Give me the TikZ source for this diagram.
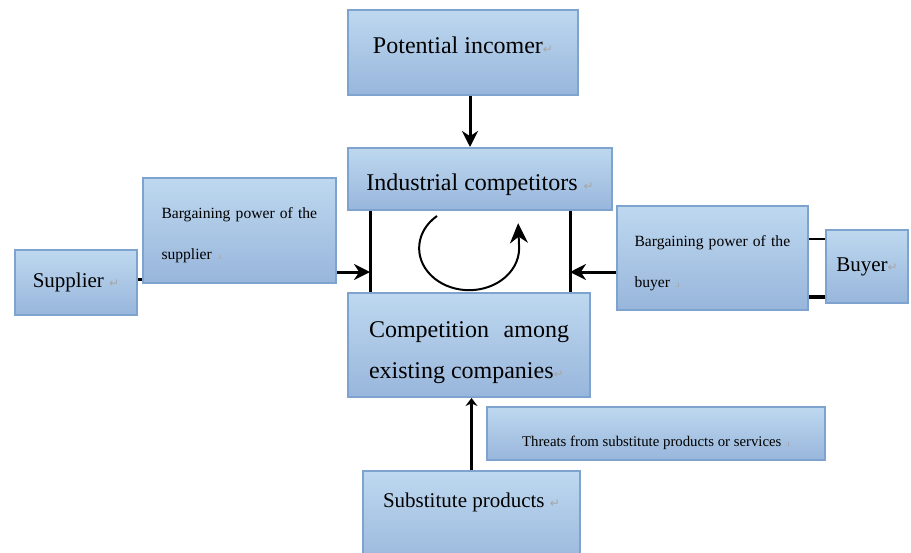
\documentclass[tikz,border=0pt]{standalone}
\usepackage{fontspec}
\setmainfont{Liberation Serif}
\newfontfamily\dejavu{DejaVu Sans}
\usetikzlibrary{arrows.meta, positioning, calc}

\definecolor{boxtop}{HTML}{BED8EF}
\definecolor{boxbot}{HTML}{98B6DC}
\definecolor{boxline}{HTML}{7EA3CE}

\newcommand{\retmark}{{\dejavu\fontsize{6}{6}\selectfont\color{gray!70}↵}}
\newcommand{\parmark}{{\fontsize{4.5}{4.5}\selectfont\color{gray!70}.ı}}

\begin{document}
\begin{tikzpicture}[x=0.5pt, y=-0.5pt, >=Stealth,
	force/.style={draw=boxline, line width=1pt, top color=boxtop, bottom color=boxbot, inner sep=0pt},
	big/.style={font=\fontsize{12}{20.5}\selectfont},
	mid/.style={font=\fontsize{10.5}{12}\selectfont},
	small/.style={font=\fontsize{7.8}{20.5}\selectfont, align=left, text width=78pt},
	arr/.style={->, line width=1.5pt, -{Stealth[length=8pt, width=8pt]}},
	bar/.style={line width=1.5pt}]
				\useasboundingbox (0,0) rectangle (911,552);
				\clip (0,0) rectangle (911,552);

				% the five forces
				\node[force, big, minimum width=115pt, minimum height=42.5pt, text height=9pt, text depth=8pt] (pi) at (463, 52.5) {Potential incomer\retmark};
				\node[force, big, minimum width=132pt, minimum height=31pt, text height=13.6pt, text depth=2.6pt] (ic) at (480, 179) {Industrial competitors \retmark};
				\node[force, big, minimum width=121pt, minimum height=52pt, align=justify, text width=100pt] (cc) at (469, 345) {\rule{0pt}{15.5pt}Competition among existing companies\retmark};
				\node[force, mid, minimum width=61pt, minimum height=32.5pt] (sup) at (76, 282.5) {Supplier \retmark};
				\node[force, small, minimum width=96.5pt, minimum height=52.5pt] (bps) at (239.5, 230.5) {\rule{0pt}{10.5pt}Bargaining power of the\\supplier \parmark};
				\node[force, small, minimum width=95.5pt, minimum height=52pt] (bpb) at (712.5, 258) {\rule{0pt}{10.5pt}Bargaining power of the\\buyer \parmark};
				\node[force, mid, minimum width=41pt, minimum height=36.5pt] (buy) at (867, 266.5) {Buyer\retmark};
				\node[force, font=\fontsize{7.4}{8}\selectfont, minimum width=169pt, minimum height=26.5pt, text height=14pt, text depth=1.5pt] (thr) at (656, 433.5) {Threats from substitute products or services \parmark};
				\node[force, mid, anchor=north, minimum width=108.5pt, minimum height=50pt, text depth=21pt] (sub) at (471.5, 470) {Substitute products \retmark};

				\coordinate (sl) at (370, 272);
				\coordinate (sr) at (570, 272);
				\coordinate (sy) at (140, 279);
				\coordinate (by1) at (817, 239);
				\coordinate (by2) at (817, 297);
				\coordinate (cyc) at (437, 216);

				\draw[bar] (ic.south -| sl) -- (cc.north -| sl);
				\draw[bar] (ic.south -| sr) -- (cc.north -| sr);
				\draw[line width=1pt, -{Stealth[length=10pt, width=9pt]}] (cyc) arc[start angle=130, end angle=360, x radius=25pt, y radius=21pt] -- ++(-1, -25);

				\draw[arr] ([xshift=3.5pt]pi.south) -- ([xshift=3.5pt]pi.south |- ic.north);
				\draw[arr] (bps.east |- sl) -- (sl);
				\draw[arr] (bpb.west |- sr) -- (sr);
				\draw[line width=1.5pt, -{Stealth[length=4pt, width=6pt]}] (sub.north) -- (sub.north |- cc.south);

				\draw[bar] (sup.east |- sy) -- (bps.west |- sy);
				\draw[line width=1pt] (bpb.east |- by1) -- (buy.west |- by1);
				\draw[line width=2pt] (bpb.east |- by2) -- (buy.west |- by2);
			\end{tikzpicture}
\end{document}
